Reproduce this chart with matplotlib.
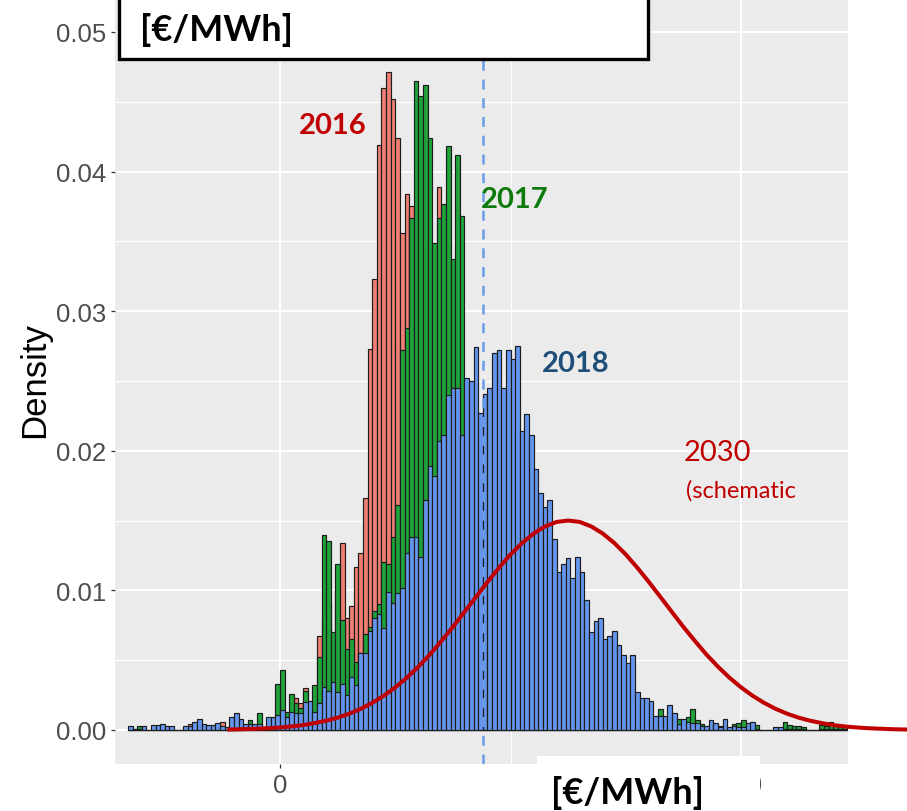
import numpy as np
import matplotlib
matplotlib.use("Agg")
import matplotlib.pyplot as plt
from matplotlib.patches import Rectangle

# histogram densities, 1 EUR/MWh bins, first bin left edge at -33
bin_start = -33

dens_2016 = [
    0, 0, 0, 0, 0, 0, 0, 0, 0, 0,
    0, 0, 0, .00045, 0, 0, 0, 0, 0, 0,
    .00055, 0, 0, 0, 0, 0, 0, 0, 0, 0,
    0, 0, 0, 0, 0, 0, .0023, .0019, .0030, .0015,
    .0020, .0067, .0080, .0090, .0060, .0100, .0134, .0080, .0089, .0117,
    .0127, .0166, .0273, .0323, .0419, .0460, .0471, .0452, .0424, .0356,
    .0384, .0375, .0300, .0280, .0250, .0220, .0300, .0389, .0200, .0150,
    .0100, .0080, .0050, .0040, .0030, .0025, .0020, .0015, .0012, .0010,
    .0008, .0007, .0006, .0005, .0005, .0004, .0004, .0003, .0003, .0003,
    .0002, .0002, .0002, .0002, .0001, .0001, .0001, .0001, .0001, .0001,
    .0001, .0001, .0001, 0, 0, 0, 0, 0, 0, 0,
    0, 0, 0, 0, 0, 0, 0, 0, 0, 0,
    0, 0, 0, 0, 0, 0, 0, 0, 0, 0,
    0, 0, 0, 0, 0, 0, 0, 0, 0, 0,
    0, 0, 0, 0, 0, 0, 0, 0, 0, 0,
    0, 0, 0, 0, 0, 0,
]

dens_2017 = [
    0, .0001, .00026, 0, 0, 0, 0, 0, 0, 0,
    0, 0, 0, 0, 0, 0, 0, 0, 0, 0,
    0, 0, 0, 0, 0, 0, .0007, 0, .0012, 0,
    0, 0, .0033, .0043, .0013, .0026, .0019, .0016, .0028, .0021,
    .0032, .0052, .0140, .0135, .0070, .0119, .0079, .0058, .0065, .0049,
    .0055, .0069, .0074, .0085, .0090, .0120, .0119, .0138, .0161, .0272,
    .0288, .0367, .0465, .0454, .0462, .0424, .0349, .0367, .0377, .0418,
    .0337, .0412, .0368, .0150, .0120, .0100, .0090, .0080, .0070, .0060,
    .0055, .0050, .0045, .0040, .0036, .0033, .0030, .0028, .0025, .0023,
    .0021, .0020, .0018, .0017, .0016, .0015, .0014, .0013, .0012, .0011,
    .0010, .0010, .0009, .0009, .0008, .0008, .0007, .0007, .0006, .0006,
    .0005, .0005, .0005, .0004, .0008, .0015, .0005, .0005, .0004, .0008,
    .0003, .0009, .0015, .0007, .0004, .0002, .0002, .0002, .0003, .0002,
    .0001, .0004, .0005, .0007, .0002, .0002, .00036, 0, 0, 0,
    0, 0, .00055, .00036, .0003, .00026, .00024, 0, 0, 0,
    .00036, .00026, .00055, .00036, .00036, .0002,
]

dens_2018 = [
    .00026, .00005, .0001, .0003, .00003, .00036, .00036, .00045, .00026, .00026,
    .00003, .00003, .00026, .00026, .0006, .00076, .00045, .00033, .00036, .00048,
    .00026, .00024, .00096, .0012, .0008, .0004, .0004, .0004, .0004, .0002,
    .0009, .0009, .0011, .0014, .0009, .0013, .0012, .0012, .0020, .0021,
    .0013, .0019, .0031, .0028, .0034, .0027, .0033, .0025, .0038, .0032,
    .0055, .0055, .0071, .0080, .0083, .0073, .0099, .0091, .0098, .0102,
    .0127, .0138, .0138, .0124, .0165, .0189, .0182, .0207, .0211, .0240,
    .0245, .0245, .0211, .0252, .0250, .0274, .0227, .0241, .0245, .0270,
    .0272, .0245, .0272, .0266, .0275, .0214, .0226, .0211, .0187, .0170,
    .0160, .0165, .0137, .0113, .0119, .0123, .0109, .0124, .0113, .0093,
    .0070, .0078, .0080, .0065, .0067, .0071, .0061, .0054, .0048, .0054,
    .0027, .0023, .0023, .0021, .0010, .0010, .0010, .0018, .0012, .0004,
    .0008, .0006, .0005, .0005, .00026, .0003, .0007, .0005, .0002, .0008,
    .0002, .00026, .0002, .0002, .0005, .00055, .0001, .00003, .00003, .00003,
    .00024, .00024, .0001, .0001, .0001, .0001, .0001, .00002, .00002, .00002,
    .0001, .0001, .0001, .0001, .0001, .0001,
]

# schematic 2030 curve
curve_x = [-11, -7.5, -5, -2.5, 0, 2.5, 5, 7.5, 10, 12.5, 15, 17.5, 20, 22.5,
           25, 27.5, 30, 32.5, 35, 37.5, 40, 42.5, 45, 47.5, 50, 52.5, 55,
           57.5, 60, 62.5, 65, 67.5, 70, 72.5, 75, 77.5, 80, 82.5, 85, 87.5,
           90, 92.5, 95, 97.5, 100, 102.5, 105, 107.5, 110, 112.5, 115, 117.5,
           120, 122.5, 125, 127.5, 130, 133, 136]
curve_y = [.00003, .00006, .00009, .000125, .00018, .00025, .00035, .00049,
           .00066, .00088, .00116, .00151, .00194, .00245, .00305, .00374,
           .00453, .0054, .00637, .00738, .00845, .00953, .0106, .01162,
           .01257, .01339, .01407, .01458, .0149, .0150, .0149, .01458,
           .01407, .01339, .01257, .01162, .0106, .00953, .00845, .00738,
           .00637, .0054, .00453, .00374, .00305, .00245, .00194, .00151,
           .00116, .00088, .00066, .00049, .00035, .00025, .00018, .000125,
           .00009, .00005, .00003]

mean_line = 44.1

W, H = 907, 812
fig = plt.figure(figsize=(W / 100, H / 100), dpi=100)
ax = fig.add_axes([115 / W, 1 - 765 / H, (848 - 115) / W, 765 / H])
ax.set_facecolor('#EBEBEB')
ax.set_axisbelow(True)

edges = np.arange(bin_start, bin_start + len(dens_2018))
for vals, col in [(dens_2016, '#F07F73'), (dens_2017, '#1FA33A'), (dens_2018, '#6495ED')]:
    ax.bar(edges, vals, width=1, align='edge', color=col,
           edgecolor='#1c1c1c', linewidth=0.85, zorder=2)

ax.axvline(mean_line, color='#6A9CE8', lw=1.8, dashes=(4, 3.5), zorder=3)
ax.plot(curve_x, curve_y, color='#C00000', lw=2.9, clip_on=False, zorder=4,
        solid_joinstyle='round')

ax.set_xlim(-35.8, 123.2)
ax.set_ylim(-0.00244, 0.05236)
ax.set_xticks([0, 100])
ax.set_xticks([50], minor=True)
ax.set_yticks([0, .01, .02, .03, .04, .05])
ax.set_yticks(np.arange(0.005, 0.05, 0.01), minor=True)
ax.set_yticklabels(['0.00', '0.01', '0.02', '0.03', '0.04', '0.05'])
ax.grid(which='major', color='white', lw=1.5)
ax.grid(which='minor', color='white', lw=0.8)
for s in ax.spines.values():
    s.set_visible(False)
ax.tick_params(which='major', length=3, width=0.9, color='#333333',
               labelcolor='#4D4D4D', labelsize=18.5, pad=3.5)
ax.tick_params(which='minor', length=0)
for lab in ax.get_xticklabels() + ax.get_yticklabels():
    lab.set_family('Liberation Sans')

fig.text(35 / W, 1 - 380 / H, 'Density', rotation=90, ha='center', va='center',
         fontsize=25, family='Liberation Sans')

# year labels
lbl = dict(family='Lato', ha='center', va='center')
ax.text(11.5, 0.0433, '2016', color='#C00000', fontsize=21, fontweight='bold', **lbl)
ax.text(51.0, 0.0380, '2017', color='#0E7A0E', fontsize=21, fontweight='bold', **lbl)
ax.text(64.2, 0.0263, '2018', color='#1F4E79', fontsize=21, fontweight='bold', **lbl)
ax.text(94.8, 0.0199, '2030', color='#C00000', fontsize=21, **lbl)
ax.text(88.0, 0.0172, '(schematic', color='#C00000', fontsize=17, family='Lato',
        ha='left', va='center')

# overlay boxes
top_box = Rectangle((119 / W, 1 - 60 / H), (648 - 119) / W, 80 / H,
                    transform=fig.transFigure, facecolor='white',
                    edgecolor='black', lw=2.4, zorder=5, clip_on=False)
fig.patches.append(top_box)
fig.text(140 / W, 1 - 30 / H, '[€/MWh]', fontsize=26, fontweight='bold',
         family='Lato', ha='left', va='center', zorder=6)

bot_box = Rectangle((537 / W, 0), (760 - 537) / W, 55 / H,
                    transform=fig.transFigure, facecolor='white',
                    edgecolor='none', zorder=5)
fig.patches.append(bot_box)
fig.text(628 / W, 1 - 793 / H, '[€/MWh]', fontsize=26, fontweight='bold',
         family='Lato', ha='center', va='center', zorder=6)

fig.savefig('out.png', dpi=100)
